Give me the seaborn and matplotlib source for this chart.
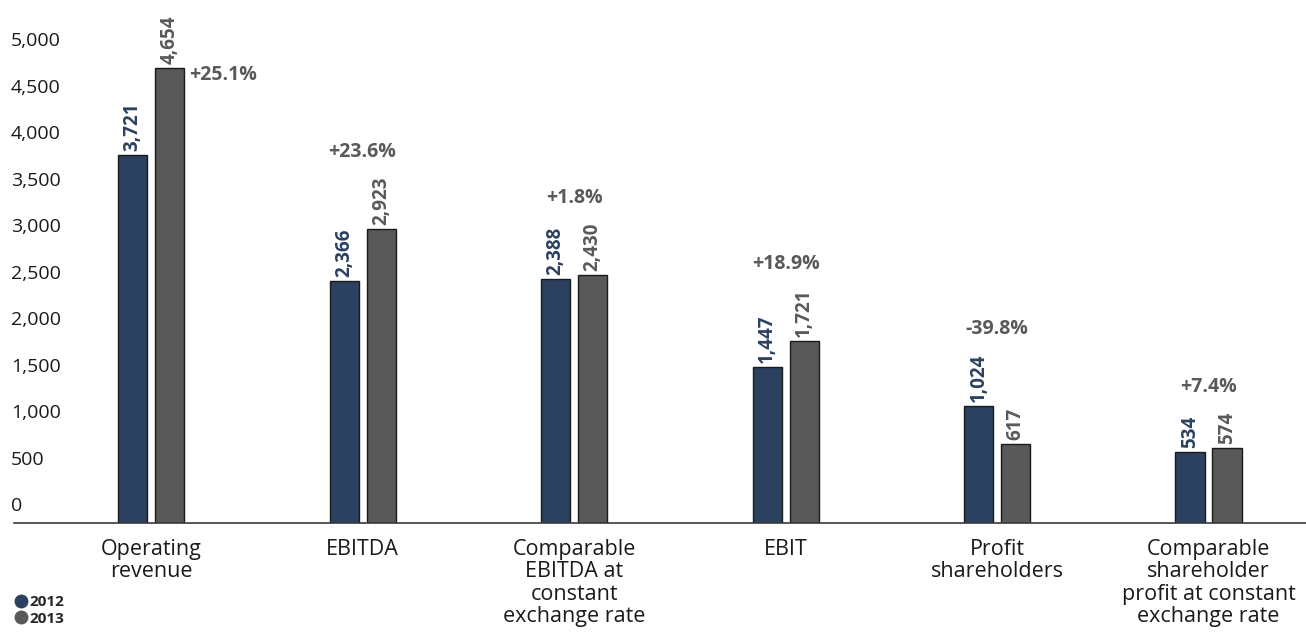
import matplotlib
matplotlib.use("Agg")
import matplotlib.pyplot as plt
import matplotlib.transforms as mtransforms
from matplotlib.lines import Line2D
import seaborn as sns
import pandas as pd

# ---- data ----
categories = [
    "Operating\nrevenue",
    "EBITDA",
    "Comparable\nEBITDA at\nconstant\nexchange rate",
    "EBIT",
    "Profit\nshareholders",
    "Comparable\nshareholder\nprofit at constant\nexchange rate",
]
years = ["2012", "2013"]
values_2012 = [3721, 2366, 2388, 1447, 1024, 534]
values_2013 = [4654, 2923, 2430, 1721, 617, 574]
changes = ["+25.1%", "+23.6%", "+1.8%", "+18.9%", "-39.8%", "+7.4%"]
y_ticks = [0, 500, 1000, 1500, 2000, 2500, 3000, 3500, 4000, 4500, 5000]

# ---- style ----
NAVY = "#2c4060"
GREY = "#595959"
palette = [NAVY, GREY]

sns.set_theme(style="white")
plt.rcParams["font.family"] = ["Open Sans", "DejaVu Sans"]

df = pd.DataFrame({
    "category": categories * 2,
    "year": [years[0]] * len(categories) + [years[1]] * len(categories),
    "value": values_2012 + values_2013,
})

W, H = 1306, 634
fig = plt.figure(figsize=(W / 100, H / 100), dpi=100)
ax = fig.add_axes([14 / W, 1 - 523 / H, 1 - 14 / W, 523 / H])

sns.barplot(data=df, x="category", y="value", hue="year", palette=palette,
            width=0.35, gap=0.216, edgecolor="#1a1a1a", linewidth=1.0,
            saturation=1, legend=False, ax=ax, order=categories, hue_order=years)

YMIN, YMAX = -231, 5387
ax.set_ylim(YMIN, YMAX)
ax.set_xlim(-0.648, 5.461)

# extend bars down to the baseline (axis line)
for p in ax.patches:
    top = p.get_y() + p.get_height()
    p.set_y(YMIN)
    p.set_height(top - YMIN)

# spines
for s in ["left", "right", "top"]:
    ax.spines[s].set_visible(False)
ax.spines["bottom"].set_color("#3a3a3a")
ax.spines["bottom"].set_linewidth(1.2)
ax.set_xlabel("")
ax.set_ylabel("")

# x tick labels
ax.tick_params(axis="x", length=0, pad=11.5, labelsize=15.5, colors="#1a1a1a")
ax.set_xticks(range(len(categories)))
ax.set_xticklabels(categories, linespacing=1.08)

# y tick labels drawn inside the axes area
ax.set_yticks([])
ytrans = mtransforms.blended_transform_factory(ax.transAxes, ax.transData)
ytrans = ytrans + mtransforms.ScaledTranslation(-3 / 100, -5 / 100, fig.dpi_scale_trans)
for v in y_ticks:
    ax.text(0, v, f"{v:,}", transform=ytrans, ha="left", va="center",
            fontsize=14, color="#1a1a1a")

# value labels
label_sets = []
for cont, col, vals in zip(ax.containers, palette, [values_2012, values_2013]):
    texts = ax.bar_label(cont, labels=[f"{v:,}" for v in vals], rotation=90,
                         padding=3, fontsize=13.5, fontweight="bold", color=col)
    label_sets.append(texts)

# percentage change labels
for i, pct in enumerate(changes):
    if i == 0:
        bar = ax.containers[1][i]
        ax.annotate(pct, xy=(bar.get_x() + bar.get_width(), values_2013[i]),
                    xycoords="data", xytext=(4, -5), textcoords="offset points",
                    ha="left", va="center", fontsize=14, fontweight="bold",
                    color=GREY)
    else:
        k = 0 if values_2012[i] >= values_2013[i] else 1
        lab = label_sets[k][i]
        ax.annotate(pct, xy=(i, 1), xycoords=("data", lab),
                    xytext=(0, 18), textcoords="offset points",
                    ha="center", va="center", fontsize=14, fontweight="bold",
                    color=GREY)

# legend
handles = [Line2D([0], [0], marker="o", linestyle="", markersize=9,
                  markerfacecolor=c, markeredgecolor=c) for c in palette]
fig.legend(handles, years, loc="lower left", bbox_to_anchor=(0.004, 0.0),
           frameon=False, handletextpad=0.05, labelspacing=0.15,
           borderpad=0.05, handlelength=1.0,
           prop={"size": 11, "weight": "bold"})

fig.savefig("out.png", dpi=100)
